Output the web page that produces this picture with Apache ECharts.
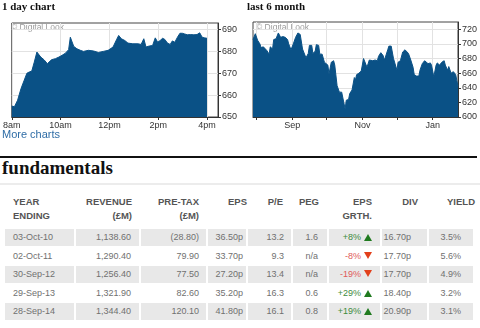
<!DOCTYPE html>
<html><head><meta charset="utf-8">
<script src="https://cdn.jsdelivr.net/npm/echarts@6/dist/echarts.min.js"></script>
<style>
html,body{margin:0;padding:0;background:#fff}
body{width:480px;height:328px;overflow:hidden;position:relative;font-family:"Liberation Sans",Arial,sans-serif}
#c{position:absolute;left:0;top:0;width:480px;height:145px}
.abs{position:absolute;white-space:nowrap}
.hd{font-size:9.5px;font-weight:bold;color:#555;line-height:12px}
.val{font-size:9px;color:#707070;line-height:12px}
.band{position:absolute;background:#e8e8e8}
.tri-up{display:inline-block;width:0;height:0;border-left:4px solid transparent;border-right:4px solid transparent;border-bottom:7px solid #1f7a1f;margin-left:3px;vertical-align:-1px}
.tri-dn{display:inline-block;width:0;height:0;border-left:4px solid transparent;border-right:4px solid transparent;border-top:7px solid #e2401c;margin-left:3px;vertical-align:0px}
</style></head><body>
<div id="c"></div>
<div id="fund"></div>
<script>
// ---- 1 day chart data (hours since midnight, price in p) ----
const dayTimes = [8.00,8.11,8.18,8.24,8.38,8.51,8.62,8.72,8.82,8.92,9.03,9.09,9.19,9.32,9.46,9.52,9.63,9.79,9.93,10.06,10.20,10.33,10.40,10.47,10.54,10.67,10.81,10.94,11.14,11.35,11.55,11.75,11.95,12.15,12.29,12.38,12.49,12.63,12.76,12.96,13.17,13.30,13.41,13.50,13.64,13.77,13.88,13.98,14.08,14.18,14.27,14.38,14.49,14.58,14.68,14.79,14.89,14.99,15.08,15.19,15.32,15.46,15.59,15.70,15.80,15.89,16.00];
const dayPrices = [655,654.7,654,657.7,663,666.8,670,670.6,671,675,679.7,679,677.4,676.2,674.4,674,676.2,676.7,677.4,678.2,679.2,680.8,686.5,686.2,682.3,681.2,680.5,680,680.5,680.2,679.5,680,680.5,682,685.3,687.3,685.8,685,683.8,683.5,683.5,683.2,685.8,682,682.5,682.7,686.2,684.2,685,686,685.5,683.8,683.2,684.8,684.2,686.5,688.3,688.3,688,687.6,687.7,687.6,687.7,688.5,686.5,686.2,686];
const dayTickHours = [8,10,12,14,16];
const dayTickLabels = ['8am','10am','12pm','2pm','4pm'];
const dayYTicks = [650,660,670,680,690];

// ---- last 6 month data ----
const sixDates = ['2014-07-29','2014-07-31','2014-08-01','2014-08-02','2014-08-04','2014-08-05','2014-08-07','2014-08-10','2014-08-12','2014-08-13','2014-08-15','2014-08-16','2014-08-18','2014-08-20','2014-08-21','2014-08-22','2014-08-24','2014-08-26','2014-08-28','2014-08-29','2014-08-31','2014-09-02','2014-09-04','2014-09-06','2014-09-08','2014-09-10','2014-09-11','2014-09-13','2014-09-15','2014-09-16','2014-09-18','2014-09-19','2014-09-21','2014-09-22','2014-09-24','2014-09-25','2014-09-27','2014-09-29','2014-09-30','2014-10-02','2014-10-03','2014-10-05','2014-10-07','2014-10-08','2014-10-10','2014-10-12','2014-10-14','2014-10-15','2014-10-17','2014-10-18','2014-10-20','2014-10-21','2014-10-23','2014-10-25','2014-10-26','2014-10-27','2014-10-29','2014-10-31','2014-11-02','2014-11-03','2014-11-05','2014-11-07','2014-11-08','2014-11-10','2014-11-12','2014-11-14','2014-11-15','2014-11-17','2014-11-19','2014-11-20','2014-11-21','2014-11-23','2014-11-24','2014-11-26','2014-11-28','2014-11-29','2014-12-01','2014-12-02','2014-12-04','2014-12-06','2014-12-08','2014-12-09','2014-12-11','2014-12-13','2014-12-15','2014-12-16','2014-12-18','2014-12-20','2014-12-21','2014-12-23','2014-12-25','2014-12-26','2014-12-28','2014-12-30','2014-12-31','2015-01-02','2015-01-04','2015-01-05','2015-01-07','2015-01-09','2015-01-11','2015-01-12','2015-01-14','2015-01-15','2015-01-17','2015-01-19','2015-01-21','2015-01-22','2015-01-23'];
const sixPrices = [706,714,713,705,700,695,696,691,686,696,693,706,707,715,714,709,710,709,706,700,692,700,709,715,713,693,691,681,687,698,698,687,690,699,698,686,686,675,677,671,659,675,677,671,643,634,634,633,611,623,624,632,637,654,651,658,660,663,680,680,668,678,678,677,678,677,683,688,684,678,682,692,697,697,680,680,664,675,677,689,692,691,687,678,668,658,656,656,664,673,677,675,673,674,671,655,671,674,671,675,677,671,664,669,660,662,658,650,642];
const sixMonthTicks = ['2014-08-01','2014-09-01','2014-10-01','2014-11-01','2014-12-01','2015-01-01'];
const sixLabelDates = ['2014-09-01','2014-11-01','2015-01-01'];
const sixLabelNames = ['Sep','Nov','Jan'];
const sixYTicks = [600,620,640,660,680,700,720];

// ---- fundamentals table ----
const yearEnding = ['03-Oct-10','02-Oct-11','30-Sep-12','29-Sep-13','28-Sep-14'];
const revenue = ['1,138.60','1,290.40','1,256.40','1,321.90','1,344.40'];
const preTax = ['(28.80)','79.90','77.50','82.60','120.10'];
const eps = ['36.50p','33.70p','27.20p','35.20p','41.80p'];
const pe = ['13.2','9.3','13.4','16.3','16.1'];
const peg = ['1.6','n/a','n/a','0.6','0.8'];
const epsGrowth = ['+8%','-8%','-19%','+29%','+19%'];
const div = ['16.70p','17.70p','17.70p','18.40p','20.90p'];
const yieldPct = ['3.5%','5.6%','4.9%','3.2%','3.1%'];
const headers = [['YEAR','ENDING'],['REVENUE','(£M)'],['PRE-TAX','(£M)'],['EPS',''],['P/E',''],['PEG',''],['EPS','GRTH.'],['DIV',''],['YIELD','']];

function ts(s){const p=s.split('-').map(Number);return Date.UTC(p[0],p[1]-1,p[2]);}

const FILL = '#0a5186';
const axisText = {fontSize:9,color:'#333',fontFamily:'Liberation Sans'};
const sixLabelTs = sixLabelDates.map(ts);

const chart = echarts.init(document.getElementById('c'), null, {renderer:'canvas'});
chart.setOption({
  animation:false,
  backgroundColor:'#fff',
  title:[
    {text:'1 day chart',left:2,top:2,padding:0,textStyle:{fontFamily:'Liberation Serif',fontWeight:'bold',fontSize:11,color:'#111'}},
    {text:'last 6 month',left:247,top:2,padding:0,textStyle:{fontFamily:'Liberation Serif',fontWeight:'bold',fontSize:11,color:'#111'}},
    {text:'More charts',left:2,top:129,padding:0,textStyle:{fontFamily:'Liberation Sans',fontWeight:'normal',fontSize:11,color:'#2f6da6'}}
  ],
  grid:[
    {left:8,top:23,width:210,height:94,show:true,borderColor:'#444',borderWidth:1,backgroundColor:'transparent'},
    {left:253,top:22,width:209,height:95,show:true,borderColor:'#444',borderWidth:1,backgroundColor:'transparent'}
  ],
  xAxis:[
    {type:'value',gridIndex:0,min:8,max:16.45,interval:2,
      axisLine:{lineStyle:{color:'#333'}},
      axisTick:{customValues:dayTickHours,length:3,lineStyle:{color:'#333'}},
      axisLabel:Object.assign({customValues:dayTickHours,margin:4,formatter:v=>dayTickLabels[dayTickHours.indexOf(v)]||''},axisText),
      splitLine:{show:true,lineStyle:{color:'#e2e2e2'}}},
    {type:'value',gridIndex:1,min:ts('2014-07-29'),max:ts('2015-01-23'),
      axisLine:{lineStyle:{color:'#333'}},
      axisTick:{customValues:sixMonthTicks.map(ts),length:3,lineStyle:{color:'#333'}},
      axisLabel:Object.assign({customValues:sixLabelTs,margin:4,
        formatter:v=>{const i=sixLabelTs.indexOf(v);return i>=0?sixLabelNames[i]:'';}},axisText),
      splitLine:{show:true,lineStyle:{color:'#e2e2e2'}}}
  ],
  yAxis:[
    {type:'value',gridIndex:0,position:'right',min:650,max:693,interval:10,
      axisLine:{show:true,lineStyle:{color:'#333'}},
      axisTick:{show:true,customValues:dayYTicks,length:3,lineStyle:{color:'#333'}},
      axisLabel:Object.assign({customValues:dayYTicks,margin:4},axisText),
      splitLine:{show:true,lineStyle:{color:'#e2e2e2'}}},
    {type:'value',gridIndex:1,position:'right',min:600,max:730,interval:20,
      axisLine:{show:true,lineStyle:{color:'#333'}},
      axisTick:{show:true,customValues:sixYTicks,length:3,lineStyle:{color:'#333'}},
      axisLabel:Object.assign({customValues:sixYTicks,margin:4},axisText),
      splitLine:{show:true,lineStyle:{color:'#e2e2e2'}}}
  ],
  graphic:[
    {type:'text',left:11,top:23,style:{text:'© Digital Look',fontSize:8.5,fontFamily:'Liberation Sans',fill:'#9a9a9a'}},
    {type:'text',left:256,top:23,style:{text:'© Digital Look',fontSize:8.5,fontFamily:'Liberation Sans',fill:'#9a9a9a'}}
  ],
  series:[
    {type:'line',xAxisIndex:0,yAxisIndex:0,showSymbol:false,
      data:dayTimes.map((t,i)=>[t,dayPrices[i]]),
      lineStyle:{width:1,color:FILL},areaStyle:{color:FILL,opacity:1}},
    {type:'line',xAxisIndex:1,yAxisIndex:1,showSymbol:false,
      data:sixDates.map((d,i)=>[ts(d),sixPrices[i]]),
      lineStyle:{width:1,color:FILL},areaStyle:{color:FILL,opacity:1}}
  ]
});

// ---- fundamentals section (HTML) ----
const fund = document.getElementById('fund');
function add(html){fund.insertAdjacentHTML('beforeend',html);}
add('<div class="abs" style="left:0;top:156px;width:477px;height:2px;background:#111"></div>');
add('<div class="abs" style="left:2px;top:158px;font-family:\'Liberation Serif\',serif;font-weight:bold;font-size:19px;line-height:19px;color:#111">fundamentals</div>');
add('<div class="abs" style="left:0;top:183px;width:480px;height:2px;background:#ececec"></div>');

const cols = [
  {l:5,r:74,ha:'left',hx:13,vx:13},
  {l:76,r:139,ha:'right',hx:132,vx:131},
  {l:141,r:206,ha:'right',hx:199,vx:199},
  {l:208,r:246,ha:'right',hx:247,vx:243},
  {l:248,r:291,ha:'right',hx:283,vx:284},
  {l:293,r:327,ha:'right',hx:319,vx:318},
  {l:329,r:380,ha:'right',hx:372,vx:372},
  {l:382,r:427,ha:'right',hx:418,vx:411},
  {l:429,r:473,ha:'right',hx:475,vx:461}
];
function place(cls,text,align,x,cy,extra){
  const style = align==='left' ? `left:${x}px;` : `right:${480-x}px;`;
  add(`<div class="abs ${cls}" style="${style}top:${cy-6}px;${extra||''}">${text}</div>`);
}
headers.forEach((h,i)=>{
  place('hd',h[0],cols[i].ha,cols[i].hx,202);
  if(h[1]) place('hd',h[1],cols[i].ha,cols[i].hx,216);
});
const rows = yearEnding.map((y,i)=>[y,revenue[i],preTax[i],eps[i],pe[i],peg[i],epsGrowth[i],div[i],yieldPct[i]]);
rows.forEach((row,r)=>{
  const cy = 237 + r*18.5;
  if(r%2===0){
    cols.forEach(c=>add(`<div class="band" style="left:${c.l}px;top:${cy-8.5}px;width:${c.r-c.l}px;height:17px"></div>`));
  }
  row.forEach((v,i)=>{
    const c = cols[i];
    if(i===6){
      const up = v.charAt(0)==='+';
      const col = up ? '#3d8b3d' : '#e05a5a';
      place('val',`<span style="color:${col}">${v}</span><span class="${up?'tri-up':'tri-dn'}"></span>`,'right',c.vx,cy);
    } else {
      place('val',v,c.ha,c.vx,cy);
    }
  });
});
</script>
</body></html>
